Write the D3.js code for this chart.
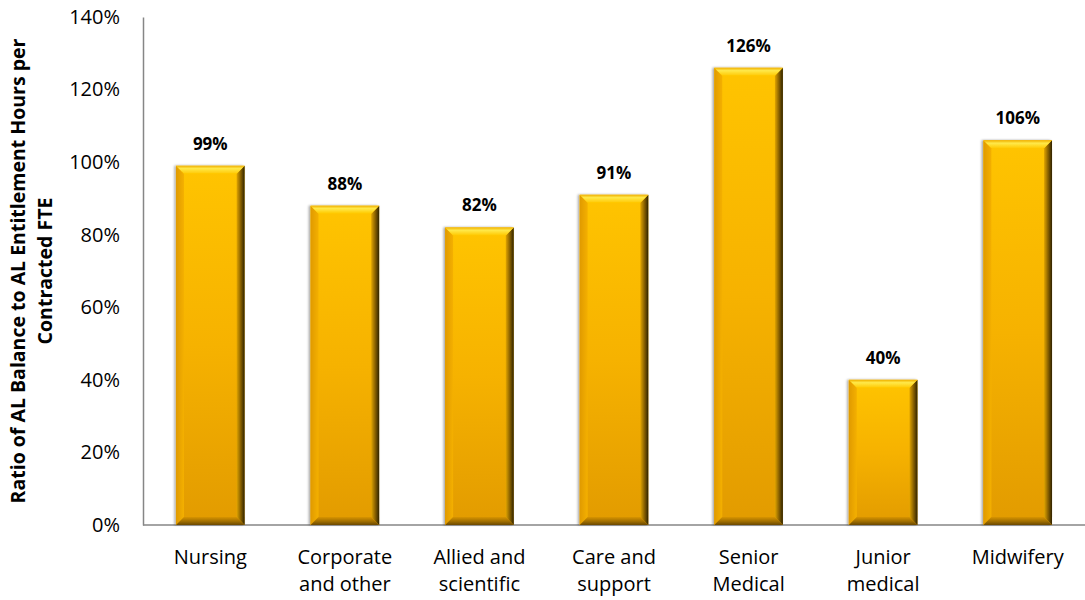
<!DOCTYPE html>
<html>
<head>
<meta charset="utf-8">
<script src="https://cdn.jsdelivr.net/npm/d3@7"></script>
<style>
  html, body { margin: 0; padding: 0; background: #fff; }
  svg { display: block; font-family: "Open Sans", Lato, "Liberation Sans", sans-serif; }
</style>
</head>
<body>
<svg id="chart" width="1085" height="600"></svg>
<script>
// Annual leave balance ratio by staff group
const categories = [
  ["Nursing"],
  ["Corporate", "and other"],
  ["Allied and", "scientific"],
  ["Care and", "support"],
  ["Senior", "Medical"],
  ["Junior", "medical"],
  ["Midwifery"]
];
const values = [99, 88, 82, 91, 126, 40, 106];
const yTicks = [0, 20, 40, 60, 80, 100, 120, 140];
const yTitle = ["Ratio of AL Balance to AL Entitlement Hours per", "Contracted FTE"];

const svg = d3.select("#chart");
const W = 1085, H = 600;
const m = { left: 143, right: 0, top: 17, bottom: 75 };

const x = d3.scaleBand()
  .domain(d3.range(values.length))
  .range([m.left, W - m.right])
  .paddingInner(0.49)
  .paddingOuter(0.245);

const y = d3.scaleLinear().domain([0, 140]).range([H - m.bottom, m.top]);

// Gradients for the bevelled bars
const defs = svg.append("defs");
function linGrad(id, x1, y1, x2, y2, stops) {
  const g = defs.append("linearGradient").attr("id", id)
    .attr("x1", x1).attr("y1", y1).attr("x2", x2).attr("y2", y2);
  stops.forEach(([o, c]) => g.append("stop").attr("offset", o).attr("stop-color", c));
}
linGrad("face", 0, 0, 0, 1, [[0, "#FFC400"], [0.5, "#F6B200"], [1, "#E29B00"]]);
linGrad("topBevel", 0, 0, 0, 1, [[0, "#F0B000"], [0.35, "#FFE94A"], [1, "#FFC800"]]);
linGrad("rightBevel", 0, 0, 1, 0, [[0, "#E0A400"], [0.5, "#8A6200"], [1, "#2E2200"]]);
linGrad("leftBevel", 0, 0, 1, 0, [[0, "#E09A00"], [1, "#F4B000"]]);
linGrad("bottomBevel", 0, 0, 0, 1, [[0, "#D89400"], [0.6, "#9A6A00"], [1, "#6A4800"]]);

const shadow = defs.append("filter").attr("id", "shadow")
  .attr("x", "-20%").attr("y", "-5%").attr("width", "140%").attr("height", "110%");
shadow.append("feDropShadow").attr("dx", -1.5).attr("dy", 0)
  .attr("stdDeviation", 1.2).attr("flood-color", "#000").attr("flood-opacity", 0.35);

// Axes
const axisColor = "#868686";
const yAxis = svg.append("g").attr("transform", `translate(${m.left},0)`)
  .call(d3.axisLeft(y).tickValues(yTicks).tickSize(0).tickPadding(23).tickFormat(d => d + "%"));
yAxis.select(".domain").attr("stroke", axisColor).attr("stroke-width", 1.5);
yAxis.selectAll("text").attr("font-size", 20).attr("fill", "#000")
  .attr("font-family", "'Open Sans', Lato, sans-serif");

svg.append("line")
  .attr("x1", m.left).attr("x2", W).attr("y1", y(0)).attr("y2", y(0))
  .attr("stroke", axisColor).attr("stroke-width", 1.5);

// Bars
const bev = 8;
const bars = svg.append("g").selectAll("g").data(values).join("g")
  .attr("filter", "url(#shadow)");

bars.each(function (v, i) {
  const g = d3.select(this);
  const x0 = x(i), x1 = x(i) + x.bandwidth();
  const y0 = y(v), y1 = y(0);
  const b = Math.min(bev, (y1 - y0) / 2);
  const pts = a => a.map(p => p.join(",")).join(" ");
  g.append("rect").attr("x", x0).attr("y", y0).attr("width", x1 - x0).attr("height", y1 - y0)
    .attr("fill", "url(#face)");
  g.append("polygon").attr("fill", "url(#leftBevel)")
    .attr("points", pts([[x0, y0], [x0 + b, y0 + b], [x0 + b, y1 - b], [x0, y1]]));
  g.append("polygon").attr("fill", "url(#rightBevel)")
    .attr("points", pts([[x1, y0], [x1 - b, y0 + b], [x1 - b, y1 - b], [x1, y1]]));
  g.append("polygon").attr("fill", "url(#topBevel)")
    .attr("points", pts([[x0, y0], [x1, y0], [x1 - b, y0 + b], [x0 + b, y0 + b]]));
  g.append("polygon").attr("fill", "url(#bottomBevel)")
    .attr("points", pts([[x0 + b, y1 - b], [x1 - b, y1 - b], [x1, y1], [x0, y1]]));
});

// Value labels
svg.append("g").selectAll("text").data(values).join("text")
  .attr("x", (d, i) => x(i) + x.bandwidth() / 2)
  .attr("y", d => y(d) - 16)
  .attr("text-anchor", "middle")
  .attr("font-size", 17).attr("font-weight", "bold").attr("fill", "#000")
  .text(d => d + "%");

// Category labels
const cat = svg.append("g").selectAll("text").data(categories).join("text")
  .attr("text-anchor", "middle")
  .attr("font-size", 20).attr("fill", "#000");
cat.each(function (lines, i) {
  const t = d3.select(this);
  lines.forEach((l, k) => {
    t.append("tspan").attr("x", x(i) + x.bandwidth() / 2).attr("y", 564 + k * 27).text(l);
  });
});

// Y axis title
const title = svg.append("text")
  .attr("transform", `translate(0,${(y(0) + y(140)) / 2}) rotate(-90)`)
  .attr("text-anchor", "middle")
  .attr("font-size", 19.5).attr("font-weight", "bold").attr("fill", "#000");
yTitle.forEach((l, k) => {
  title.append("tspan").attr("x", 0).attr("y", 25 + k * 27).text(l);
});
</script>
</body>
</html>
